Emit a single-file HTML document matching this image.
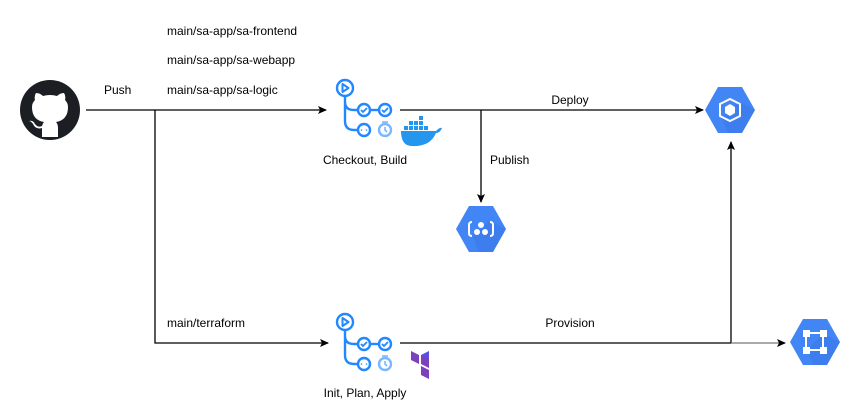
<!DOCTYPE html>
<html><head><style>
body{margin:0;background:#fff;}
svg{display:block;font-family:"Liberation Sans",sans-serif;font-size:12px;}
</style></head><body>
<svg width="852" height="417" viewBox="0 0 852 417">
<defs>
<marker id="a" markerWidth="10" markerHeight="10" refX="8" refY="4" orient="auto" markerUnits="userSpaceOnUse">
<path d="M0,0 L9,4 L0,8 L2,4 z" fill="#000"/></marker>
<g id="act" fill="none" stroke="#2188ff" stroke-width="2.4">
<circle cx="0" cy="0" r="8"/>
<path d="M-2.5,-4 L3.5,0 L-2.5,4 z" stroke-width="2" stroke-linejoin="round"/>
<path d="M0,8 V33 Q0,42 9,42 H13 M0,14 Q0,22 9,22 H13"/>
<circle cx="19" cy="22" r="6"/><circle cx="40" cy="22" r="6"/>
<path d="M25,22 H34"/>
<path d="M16,22 l2,2 l4,-4 M37,22 l2,2 l4,-4" stroke-width="1.8"/>
<circle cx="19" cy="42" r="6"/>
<circle cx="16.5" cy="42" r="0.8" fill="#2188ff" stroke="none"/><circle cx="21.5" cy="42" r="0.8" fill="#2188ff" stroke="none"/>
<circle cx="40" cy="42" r="6" stroke="#79b8ff"/>
<path d="M40,39 V42 L42,44" stroke="#79b8ff" stroke-width="1.6"/>
<path d="M37,34 H43" stroke="#79b8ff" stroke-width="1.6"/>
</g>
<g id="hex">
<path d="M-12,-23 H12 L25,0 L12,23 H-12 L-25,0 z" fill="#4285f4"/>
<path d="M8,-8 L25,0 L12,23 H-2 L-8,8 z" fill="#3b78e7" opacity="0.6"/>
</g>
</defs>

<!-- github -->
<circle cx="50" cy="110" r="30" fill="#1b1f23"/>
<path d="M42,137 V128 Q36,130 33,124 Q31,121 29,121 Q33,120 35,124 Q38,128 42,126 Q43,123 44,122 Q32,120 32,107 Q32,103 35,100 Q34,96 36,93 Q40,93 43,96 Q50,94 57,96 Q60,93 64,93 Q66,96 65,100 Q68,103 68,107 Q68,120 56,122 Q58,124 58,128 V137 z" fill="#fff"/>

<!-- lines -->
<g stroke="#000" stroke-width="1.3" fill="none">
<path d="M86,110 H326" marker-end="url(#a)"/>
<path d="M155,110 V343 H328" marker-end="url(#a)"/>
<path d="M400,110 H703" marker-end="url(#a)"/>
<path d="M481,110 V202" marker-end="url(#a)"/>
<path d="M400,343 H731 V142" marker-end="url(#a)"/>
<path d="M731,343 H785" stroke="#777" marker-end="url(#a)"/>
</g>

<use href="#act" x="345" y="88"/>
<use href="#act" x="345" y="322"/>

<!-- docker -->
<g fill="#2496ed">
<path d="M401,131 H436 Q440,127 442,128 Q440,133 436,133 Q430,147 412,146 Q401,146 401,131 z"/>
<rect x="404" y="126" width="4" height="4"/><rect x="409" y="126" width="4" height="4"/><rect x="414" y="126" width="4" height="4"/><rect x="419" y="126" width="4" height="4"/><rect x="424" y="126" width="4" height="4"/>
<rect x="409" y="121" width="4" height="4"/><rect x="414" y="121" width="4" height="4"/><rect x="419" y="121" width="4" height="4"/>
<rect x="419" y="116" width="4" height="4"/>
</g>
<!-- terraform -->
<g fill="#7b42bc">
<path d="M411,351 L419,355 V364 L411,360 z"/>
<path d="M421,355 L429,351 V360 L421,364 z" fill="#5c4ee5"/>
<path d="M421,366 L429,370 V379 L421,375 z"/>
<path d="M421,355 L429,359 V368 L421,364 z"/>
</g>

<!-- hexes -->
<use href="#hex" x="481" y="229"/>
<g stroke="#fff" stroke-width="2" fill="none"><path d="M472,222 q-3,0 -3,3 v8 q0,3 3,3 M490,222 q3,0 3,3 v8 q0,3 -3,3"/></g>
<g fill="#fff"><circle cx="481" cy="225" r="3"/><circle cx="477" cy="232" r="3"/><circle cx="485" cy="232" r="3"/></g>

<use href="#hex" x="730" y="110"/>
<path d="M730,99 L740,104 V116 L730,121 L720,116 V104 z" fill="none" stroke="#fff" stroke-width="2"/>
<path d="M730,104 L735,107 V113 L730,116 L725,113 V107 z" fill="#fff"/>

<use href="#hex" x="815" y="342"/>
<g fill="#fff"><rect x="803" y="330" width="7" height="7"/><rect x="820" y="330" width="7" height="7"/><rect x="803" y="347" width="7" height="7"/><rect x="820" y="347" width="7" height="7"/></g>
<path d="M806,337 V347 M823,337 V347 M810,333 H820 M810,350 H820" stroke="#fff" stroke-width="2"/>

<!-- labels -->
<g fill="#000">
<text x="167" y="35">main/sa-app/sa-frontend</text>
<text x="167" y="64">main/sa-app/sa-webapp</text>
<text x="167" y="94">main/sa-app/sa-logic</text>
<text x="104" y="94">Push</text>
<text x="365" y="164" text-anchor="middle">Checkout, Build</text>
<text x="570" y="104" text-anchor="middle">Deploy</text>
<text x="490" y="164">Publish</text>
<text x="167" y="327">main/terraform</text>
<text x="570" y="327" text-anchor="middle">Provision</text>
<text x="365" y="397" text-anchor="middle">Init, Plan, Apply</text>
</g>
</svg>
</body></html>
